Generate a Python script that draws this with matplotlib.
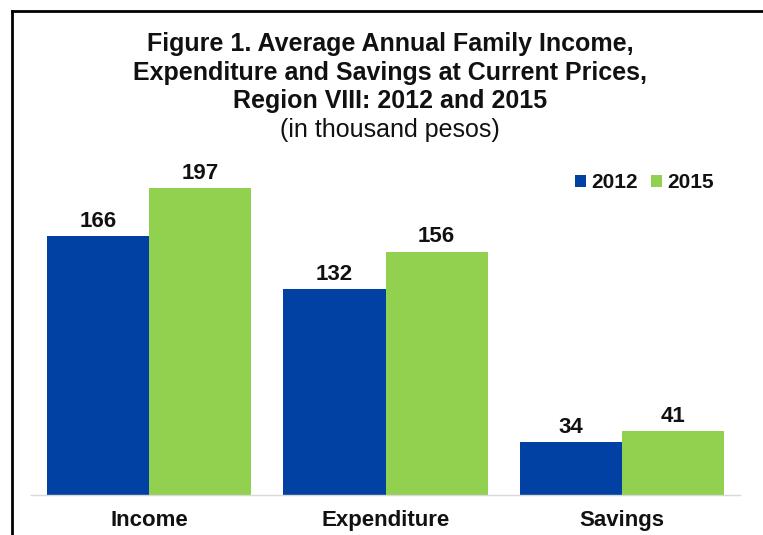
import matplotlib.pyplot as plt
import numpy as np
from matplotlib.lines import Line2D

plt.rcParams['font.family'] = ['Liberation Sans', 'DejaVu Sans']

categorias = ["Income", "Expenditure", "Savings"]
valores_2012 = [166, 132, 34]
valores_2015 = [197, 156, 41]
anios = ["2012", "2015"]
colores = ['#0041a3', '#92d050']

W, H = 763, 535
fig = plt.figure(figsize=(W / 100, H / 100), dpi=100)
fig.patch.set_facecolor('white')

# posicion del eje en pixeles
izq, der, abajo, arriba = 31, 740, 495, 167
ax = fig.add_axes([izq / W, 1 - abajo / H, (der - izq) / W, (abajo - arriba) / H])

x = np.arange(len(categorias))
ancho = 0.432
b1 = ax.bar(x - ancho / 2, valores_2012, ancho, color=colores[0], label=anios[0])
b2 = ax.bar(x + ancho / 2, valores_2015, ancho, color=colores[1], label=anios[1])

# etiquetas de valor
for barras in (b1, b2):
    for b in barras:
        ax.annotate(f"{b.get_height():.0f}", (b.get_x() + b.get_width() / 2, b.get_height()),
                    xytext=(0, 3), textcoords="offset points", ha="center", va="bottom",
                    fontsize=16, fontweight="bold", color="#111111")

ax.set_xlim(-0.5, 2.5)
ax.set_ylim(0, (abajo - arriba) / 1.56)
ax.set_xticks(x)
ax.set_xticklabels(categorias, fontsize=16, fontweight="bold", color="#111111")
ax.tick_params(axis='x', length=0, pad=11)
ax.set_yticks([])
for lado in ("top", "right", "left"):
    ax.spines[lado].set_visible(False)
ax.spines["bottom"].set_color("#d9d9d9")
ax.spines["bottom"].set_linewidth(1)

leg = fig.legend(handles=[b1, b2], labels=anios, loc="center left",
                 bbox_to_anchor=(575 / W, 1 - 183 / H), ncol=2, frameon=False,
                 fontsize=15, handlelength=0.53, handleheight=0.53, borderpad=0,
                 borderaxespad=0, handletextpad=0.25, columnspacing=0.65)
for t in leg.get_texts():
    t.set_fontweight("bold")
    t.set_color("#111111")

# titulo
cx = 390 / W
fig.text(cx, 1 - 51 / H, "Figure 1. Average Annual Family Income,", ha="center", va="baseline",
         fontsize=18, fontweight="bold", color="#111111")
fig.text(cx, 1 - 80 / H, "Expenditure and Savings at Current Prices,", ha="center", va="baseline",
         fontsize=18, fontweight="bold", color="#111111")
fig.text(cx, 1 - 108 / H, "Region VIII: 2012 and 2015", ha="center", va="baseline",
         fontsize=18, fontweight="bold", color="#111111")
fig.text(cx, 1 - 137 / H, "(in thousand pesos)", ha="center", va="baseline", fontsize=18,
         color="#111111")

# marco (cortado a la derecha y abajo)
fig.add_artist(Line2D([12 / W, 12 / W], [0, 1 - 11 / H], color="black", lw=2, transform=fig.transFigure))
fig.add_artist(Line2D([12 / W, 1], [1 - 11 / H, 1 - 11 / H], color="black", lw=2, transform=fig.transFigure))

fig.savefig("out.png", dpi=100)
